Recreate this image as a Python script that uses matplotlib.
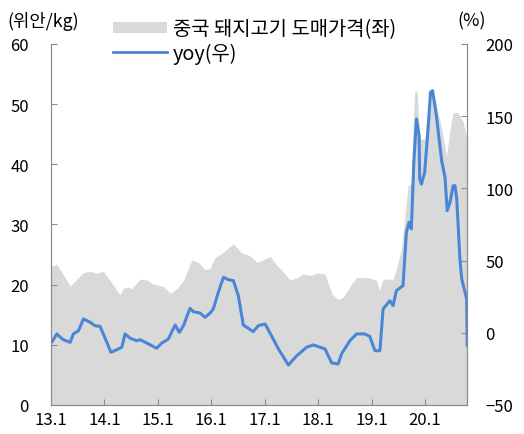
import numpy as np
import pandas as pd
import matplotlib
matplotlib.use("Agg")
import matplotlib.pyplot as plt
import matplotlib.dates as mdates
from matplotlib.patches import Patch
from matplotlib.lines import Line2D

plt.rcParams['font.family'] = ['Noto Sans CJK KR', 'DejaVu Sans']

# ======================
# DATA
# ======================
price_dates = ["2013-01-01", "2013-01-08", "2013-02-10", "2013-05-12", "2013-08-11", "2013-09-25",
               "2013-11-10", "2013-12-25", "2014-02-09", "2014-04-17", "2014-05-10", "2014-06-13",
               "2014-07-06", "2014-09-02", "2014-10-17", "2014-12-01", "2015-02-08", "2015-03-26",
               "2015-05-10", "2015-06-25", "2015-08-21", "2015-10-05", "2015-11-20", "2015-12-24",
               "2016-01-27", "2016-03-24", "2016-05-31", "2016-07-27", "2016-09-22", "2016-11-07",
               "2016-12-11", "2017-02-06", "2017-03-24", "2017-05-19", "2017-06-22", "2017-08-07",
               "2017-09-21", "2017-11-06", "2017-12-21", "2018-02-16", "2018-04-03", "2018-05-17",
               "2018-06-20", "2018-08-16", "2018-09-20", "2018-10-12", "2018-12-19", "2019-02-03",
               "2019-02-21", "2019-03-20", "2019-05-27", "2019-06-19", "2019-07-23", "2019-08-14",
               "2019-09-06", "2019-09-29", "2019-10-10", "2019-10-22", "2019-11-07", "2019-11-25",
               "2019-12-29", "2020-01-21", "2020-02-14", "2020-03-08", "2020-04-23", "2020-05-27",
               "2020-06-19", "2020-07-11", "2020-08-14", "2020-09-17", "2020-10-16"]
price_vals = [23.0, 23.1, 23.4, 19.8, 22.0, 22.2,
              21.9, 22.2, 20.7, 18.3, 19.4, 19.6,
              19.3, 20.9, 20.8, 20.1, 19.7, 18.6,
              19.3, 20.7, 24.1, 23.7, 22.5, 22.7,
              24.5, 25.4, 26.8, 25.3, 24.8, 23.7,
              24.0, 24.7, 23.2, 21.8, 20.8, 21.1,
              21.8, 21.5, 21.9, 21.8, 18.5, 17.5,
              17.9, 20.1, 21.2, 21.2, 21.1, 20.7,
              19.0, 20.9, 20.9, 22.6, 25.9, 30.9,
              36.4, 36.7, 45.9, 52.2, 52.2, 44.2,
              44.2, 49.2, 52.2, 50.9, 45.9, 41.4,
              45.9, 48.6, 48.6, 47.0, 43.9]

yoy_dates = ["2013-01-01", "2013-01-08", "2013-02-10", "2013-03-05", "2013-03-27", "2013-05-12",
             "2013-06-03", "2013-07-08", "2013-08-11", "2013-09-25", "2013-10-29", "2013-12-02",
             "2014-01-18", "2014-02-14", "2014-03-27", "2014-04-30", "2014-05-22", "2014-06-26",
             "2014-08-10", "2014-09-02", "2014-10-17", "2014-12-24", "2015-01-28", "2015-03-14",
             "2015-04-29", "2015-05-28", "2015-06-25", "2015-08-09", "2015-08-31", "2015-10-16",
             "2015-11-20", "2015-12-24", "2016-01-15", "2016-02-18", "2016-03-24", "2016-04-27",
             "2016-05-31", "2016-07-04", "2016-08-07", "2016-09-10", "2016-10-14", "2016-11-17",
             "2017-01-03", "2017-02-17", "2017-04-04", "2017-06-11", "2017-08-07", "2017-10-14",
             "2017-11-28", "2018-02-16", "2018-04-03", "2018-05-17", "2018-06-09", "2018-08-05",
             "2018-09-20", "2018-11-15", "2018-12-19", "2019-01-23", "2019-02-26", "2019-03-20",
             "2019-05-05", "2019-05-27", "2019-06-19", "2019-08-03", "2019-08-26", "2019-09-13",
             "2019-09-29", "2019-10-16", "2019-11-03", "2019-11-21", "2019-11-25", "2019-12-07",
             "2019-12-29", "2020-01-21", "2020-02-07", "2020-02-21", "2020-03-18", "2020-04-23",
             "2020-05-16", "2020-05-31", "2020-06-19", "2020-07-11", "2020-07-23", "2020-08-04",
             "2020-08-26", "2020-09-07", "2020-10-11", "2020-10-15"]
yoy_vals = [-6.0, -6.2, -0.8, -3.1, -4.8, -6.6,
            -0.8, 1.5, 9.6, 7.3, 4.9, 4.5,
            -6.6, -13.5, -11.7, -10.0, -0.8, -3.8,
            -5.5, -4.8, -7.1, -10.7, -7.1, -4.3,
            5.4, 0.3, 4.9, 17.0, 14.6, 13.7,
            10.7, 13.7, 16.5, 28.0, 38.4, 36.8,
            36.1, 25.7, 5.4, 3.1, 0.8, 4.9,
            6.1, -2.4, -11.2, -22.3, -15.9, -10.0,
            -8.4, -11.2, -20.9, -21.6, -14.7, -5.5,
            -0.8, -0.8, -2.5, -12.4, -12.4, 16.5,
            22.2, 18.8, 29.2, 32.6, 69.6, 76.5,
            71.9, 118.1, 148.1, 136.5, 106.5, 103.0,
            111.1, 141.1, 166.6, 167.7, 150.4, 119.2,
            107.7, 84.6, 90.4, 101.9, 101.9, 92.7,
            51.1, 37.3, 23.4, -8.9]

price_x = pd.to_datetime(price_dates)
yoy_x = pd.to_datetime(yoy_dates)

# ======================
# PLOT
# ======================
fig = plt.figure(figsize=(5.24, 4.35), dpi=100)
ax = fig.add_axes([0.0973, 0.0667, 0.7947, 0.8299])
ax2 = ax.twinx()

ax.fill_between(price_x, 0, price_vals, color="#d9d9d9", lw=0)
ax2.plot(yoy_x, yoy_vals, color="#4a86d8", lw=2.2)

ax.set_ylim(0, 60)
ax.set_yticks(range(0, 61, 10))
ax2.set_ylim(-50, 200)
ax2.set_yticks(range(-50, 201, 50))
ax2.set_yticklabels([str(v).replace("-", "\u2212") for v in range(-50, 201, 50)])
ax.set_xlim(pd.Timestamp("2013-01-01"), pd.Timestamp("2020-10-16"))

ax.xaxis.set_major_locator(mdates.YearLocator())
ax.xaxis.set_major_formatter(plt.FuncFormatter(
    lambda v, p: f"{mdates.num2date(v).year % 100}.1"))

spine_c = "#8c8c8c"
for a in (ax, ax2):
    for s in a.spines.values():
        s.set_color(spine_c)
    a.spines["top"].set_visible(False)

ax.tick_params(axis="y", direction="in", length=4, color=spine_c, labelsize=12, pad=16)
ax.tick_params(axis="x", direction="in", length=4, color=spine_c, labelsize=12, pad=4)
ax2.tick_params(axis="y", direction="in", length=4, color=spine_c, labelsize=12, pad=13)

fig.text(0.015, 0.95, "(위안/kg)", fontsize=12.8, ha="left", va="center")
fig.text(0.873, 0.95, "(%)", fontsize=12.8, ha="left", va="center")

handles = [Patch(facecolor="#d9d9d9", edgecolor="none"),
           Line2D([0], [0], color="#4a86d8", lw=2)]
labels = ["중국 돼지고기 도매가격(좌)", "yoy(우)"]
fig.legend(handles, labels, loc="upper left", bbox_to_anchor=(0.2165, 0.955),
           frameon=False, fontsize=14.3, handlelength=2.7, handleheight=0.5,
           handletextpad=0.3, labelspacing=0.15, borderaxespad=0, borderpad=0)

fig.savefig("out.png", dpi=100)
